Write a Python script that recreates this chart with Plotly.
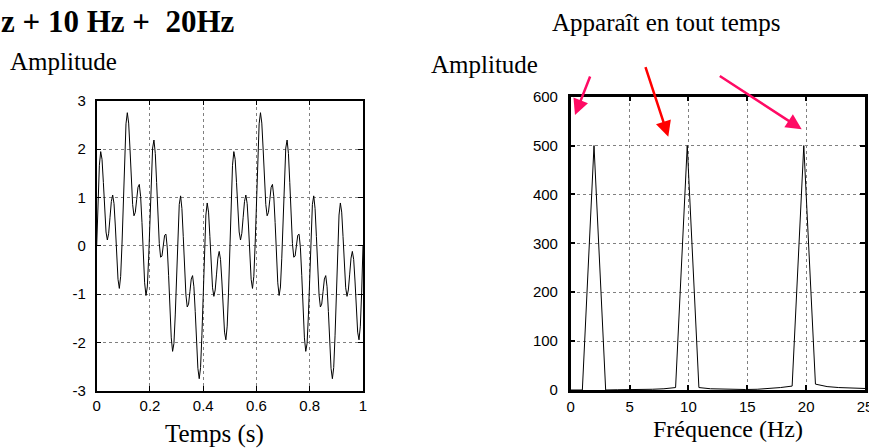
import plotly.graph_objects as go

# ---------------- data ----------------
# time signal sampled every 0.005 s from 0 to 1 s (2 Hz + 10 Hz + 20 Hz)
signal = [
    0.000, 0.960, 1.664, 1.947, 1.788, 1.309, 0.731, 0.284, 0.118, 0.257,
    0.588, 0.916, 1.048, 0.871, 0.407, -0.191, -0.695, -0.884, -0.634, 0.033,
    0.951, 1.865, 2.521, 2.752, 2.537, 2.000, 1.361, 0.850, 0.619, 0.690,
    0.951, 1.209, 1.268, 1.018, 0.481, -0.191, -0.768, -1.031, -0.854, -0.259,
    0.588, 1.433, 2.021, 2.186, 1.907, 1.309, 0.612, 0.045, -0.238, -0.216,
    0.000, 0.216, 0.238, -0.045, -0.612, -1.309, -1.907, -2.186, -2.021, -1.433,
    -0.588, 0.259, 0.854, 1.031, 0.768, 0.191, -0.481, -1.018, -1.268, -1.209,
    -0.951, -0.690, -0.619, -0.850, -1.361, -2.000, -2.537, -2.752, -2.521, -1.865,
    -0.951, -0.033, 0.634, 0.884, 0.695, 0.191, -0.407, -0.871, -1.048, -0.916,
    -0.588, -0.257, -0.118, -0.284, -0.731, -1.309, -1.788, -1.947, -1.664, -0.960,
    0.000, 0.960, 1.664, 1.947, 1.788, 1.309, 0.731, 0.284, 0.118, 0.257,
    0.588, 0.916, 1.048, 0.871, 0.407, -0.191, -0.695, -0.884, -0.634, 0.033,
    0.951, 1.865, 2.521, 2.752, 2.537, 2.000, 1.361, 0.850, 0.619, 0.690,
    0.951, 1.209, 1.268, 1.018, 0.481, -0.191, -0.768, -1.031, -0.854, -0.259,
    0.588, 1.433, 2.021, 2.186, 1.907, 1.309, 0.612, 0.045, -0.238, -0.216,
    0.000, 0.216, 0.238, -0.045, -0.612, -1.309, -1.907, -2.186, -2.021, -1.433,
    -0.588, 0.259, 0.854, 1.031, 0.768, 0.191, -0.481, -1.018, -1.268, -1.209,
    -0.951, -0.690, -0.619, -0.850, -1.361, -2.000, -2.537, -2.752, -2.521, -1.865,
    -0.951, -0.033, 0.634, 0.884, 0.695, 0.191, -0.407, -0.871, -1.048, -0.916,
    -0.588, -0.257, -0.118, -0.284, -0.731, -1.309, -1.788, -1.947, -1.664, -0.960,
    0.000,
]
t_start = 0.0
t_step = 0.005

# amplitude spectrum, one value per frequency bin
spectrum = [0, 0, 500, 0, 0.5, 0.5, 1, 1.5, 2.5, 5, 500, 5, 2.5, 1.5, 1, 1,
            1.5, 2.5, 5, 8, 500, 12, 7, 5, 4, 3, 2.5]
f_start = 0.0
f_step = 0.99

time_ticks = [0, 0.2, 0.4, 0.6, 0.8, 1]
time_ticklabels = ["0", "0.2", "0.4", "0.6", "0.8", "1"]
amp_ticks = [-3, -2, -1, 0, 1, 2, 3]
amp_ticklabels = ["-3", "-2", "-1", "0", "1", "2", "3"]
freq_ticks = [0, 5, 10, 15, 20, 25]
freq_ticklabels = ["0", "5", "10", "15", "20", "25"]
spec_ticks = [0, 100, 200, 300, 400, 500, 600]
spec_ticklabels = ["0", "100", "200", "300", "400", "500", "600"]

title_text = "z + 10 Hz +  20Hz"
note_text = "Apparaît en tout temps"

# ---------------- figure ----------------
W, H = 869, 448


def px(x):
    return x / W


def py(y):
    return 1 - y / H


fig = go.Figure()
fig.add_trace(go.Scatter(y=signal, x0=t_start, dx=t_step, mode="lines",
                         line=dict(color="black", width=1),
                         xaxis="x", yaxis="y", showlegend=False))
fig.add_trace(go.Scatter(y=spectrum, x0=f_start, dx=f_step, mode="lines",
                         line=dict(color="black", width=1),
                         xaxis="x2", yaxis="y2", showlegend=False))

tickfont = dict(family="Liberation Sans, Arial, sans-serif", size=15, color="black")
grid = dict(showgrid=True, gridcolor="#808080", gridwidth=1, griddash="dot",
            zeroline=False, showline=True, linecolor="black", mirror="ticks",
            ticks="inside", ticklen=5, tickcolor="black", tickfont=tickfont,
            automargin=False, tickmode="array", ticklabeloverflow="allow")

fig.update_layout(
    template="none",
    width=W, height=H, autosize=False,
    margin=dict(l=0, r=0, t=0, b=0, pad=0),
    paper_bgcolor="white", plot_bgcolor="white",
    xaxis=dict(domain=[px(96.7), px(363)], range=[0, 1], tickvals=time_ticks,
               ticktext=time_ticklabels, anchor="y", linewidth=1.5, tickwidth=1,
               ticklabelstandoff=1, **grid),
    yaxis=dict(domain=[py(390.7), py(100.7)], range=[-3, 3], tickvals=amp_ticks,
               ticktext=amp_ticklabels, anchor="x", linewidth=1.5, tickwidth=1,
               ticklabelstandoff=6, **grid),
    xaxis2=dict(domain=[px(570.7), px(865)], range=[0, 25], tickvals=freq_ticks,
                ticktext=freq_ticklabels, anchor="y2", linewidth=2.5, tickwidth=2,
                ticklabelstandoff=1, **grid),
    yaxis2=dict(domain=[py(390), py(96.7)], range=[0, 600], tickvals=spec_ticks,
                ticktext=spec_ticklabels, anchor="x2", linewidth=2.5, tickwidth=2,
                ticklabelstandoff=7, **grid),
)

serif = "Liberation Serif, Times New Roman, serif"


def label(text, x, y, size, xanchor="center", bold=False):
    fig.add_annotation(text=text, x=px(x), y=py(y), xref="paper", yref="paper",
                       xanchor=xanchor, yanchor="middle", showarrow=False,
                       font=dict(family=serif, size=size, color="black",
                                 weight="bold" if bold else "normal"))


label(title_text, -1, 21, 31, xanchor="left", bold=True)
label(note_text, 666, 22.5, 25)
label("Amplitude", 8, 61.5, 25, xanchor="left")
label("Amplitude", 429, 64.5, 25, xanchor="left")
label("Temps (s)", 214, 434, 25)
label("Fréquence (Hz)", 728, 429, 24)

# arrows (tip, tail) in pixel coordinates
arrows = [((575, 115), (590.7, 75), "#FF0A64"),
          ((668.3, 136.7), (645, 65.7), "#FF0000"),
          ((801.7, 129.3), (718.3, 75), "#FF0A64")]
for (tx, ty), (sx, sy), col in arrows:
    fig.add_annotation(x=px(tx), y=py(ty), xref="paper", yref="paper",
                       ax=sx - tx, ay=sy - ty, axref="pixel", ayref="pixel",
                       text="", showarrow=True, arrowhead=2, arrowsize=1.25,
                       arrowwidth=2.5, arrowcolor=col, standoff=0)

fig.write_html("out.html")
